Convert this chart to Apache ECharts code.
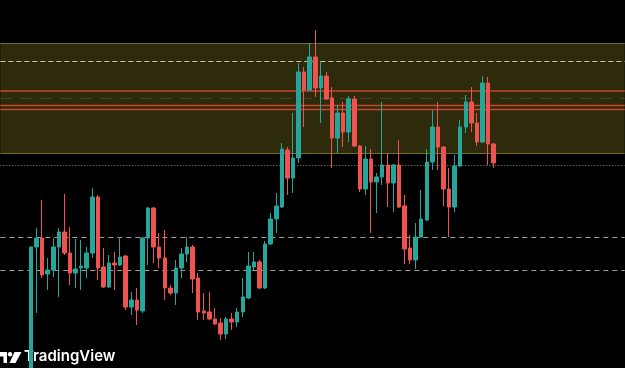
<!DOCTYPE html>
<html>
<head>
<meta charset="utf-8">
<script src="https://cdn.jsdelivr.net/npm/echarts@6/dist/echarts.min.js"></script>
<style>
html,body{margin:0;padding:0;background:#000;}
#chart{width:625px;height:368px;}
</style>
</head>
<body>
<div id="chart"></div>
<script>
// Candle values (arbitrary price units)
const openVals  = [28,153,162,126,130,153,168,147,127,132,132,147,203,133,113,137,135,144,93,100,89,162,192,153,142,112,107,132,146,153,122,89,88,81,77,66,81,78,88,102,133,138,112,156,181,193,250,222,242,328,310,343,312,324,302,262,287,268,301,254,211,241,218,223,235,217,235,194,152,140,163,180,238,273,253,211,193,234,273,298,277,258,317,256];
const closeVals = [153,162,125,130,153,168,147,127,131,134,147,203,132,113,137,135,143,93,100,90,162,192,153,142,112,107,132,146,153,121,88,87,81,76,66,81,78,88,103,134,138,112,156,181,194,251,222,242,328,310,343,312,324,301,262,287,268,301,254,211,241,218,223,235,217,235,193,151,140,163,181,238,273,253,211,193,234,273,298,277,258,317,256,237];
const highVals  = [153,172,200,142,162,172,206,173,161,160,153,212,205,152,145,148,163,145,108,112,163,193,193,167,170,115,140,152,163,155,127,107,108,92,82,83,87,92,122,148,148,140,159,187,207,257,253,287,337,333,357,370,338,328,313,295,298,304,304,255,254,251,227,298,247,236,260,205,165,177,210,251,290,298,254,232,245,280,305,313,287,324,323,257];
const lowVals   = [26,87,122,110,123,103,145,115,112,110,122,142,120,112,112,110,134,90,85,75,87,135,137,132,100,105,95,122,138,107,80,80,80,75,60,61,70,73,83,101,130,111,111,155,167,192,205,207,237,273,309,303,277,300,232,247,253,258,253,208,205,167,187,215,193,188,192,136,136,131,162,179,230,230,194,163,188,233,267,268,254,257,235,232];

// Horizontal levels
const zoneBottom = 247;
const zoneTop = 357;
const zoneDashLevel = 339;
const redLevels = [309, 295, 291];
const faintLevel = 302;
const dottedLevel = 235;
const dashedLevels = [163, 130];

const leadPad = 5;
const totalSlots = 112;

const categories = [];
for (let i = 0; i < totalSlots; i++) categories.push(String(i + 1));
const candleData = [];
for (let i = 0; i < totalSlots; i++) {
  const k = i - leadPad;
  if (k >= 0 && k < openVals.length) {
    candleData.push([openVals[k], closeVals[k], lowVals[k], highVals[k]]);
  } else {
    candleData.push('-');
  }
}

const chart = echarts.init(document.getElementById('chart'), null, {renderer: 'canvas'});
const lineBase = {symbol: 'none', label: {show: false}, silent: true, animation: false};

const option = {
  backgroundColor: '#000000',
  animation: false,
  grid: {left: 0.3, right: 0.3, top: 0, bottom: 0},
  xAxis: {
    type: 'category', data: categories, boundaryGap: true,
    axisLine: {show: false}, axisTick: {show: false}, axisLabel: {show: false}, splitLine: {show: false}
  },
  yAxis: {
    type: 'value', min: 32, max: 400, scale: true,
    axisLine: {show: false}, axisTick: {show: false}, axisLabel: {show: false}, splitLine: {show: false}
  },
  series: [
    {
      type: 'line', data: [], z: 1, silent: true,
      markArea: {
        silent: true, z: 0,
        itemStyle: {color: '#2d2b0c'},
        data: [[{yAxis: zoneBottom}, {yAxis: zoneTop}]]
      },
      markLine: Object.assign({}, lineBase, {
        z: 1,
        data: [
          {yAxis: zoneTop, lineStyle: {color: '#6e6c2e', width: 1, type: 'solid'}},
          {yAxis: zoneBottom, lineStyle: {color: '#6e6c2e', width: 1, type: 'solid'}},
          {yAxis: zoneDashLevel, lineStyle: {color: '#cfcaa4', width: 1, type: [5, 3]}},
          {yAxis: faintLevel, lineStyle: {color: '#45432a', width: 1, type: [12, 8]}},
          {yAxis: redLevels[0], lineStyle: {color: '#c8452f', width: 1.6, type: 'solid'}},
          {yAxis: redLevels[1], lineStyle: {color: '#c8452f', width: 1.4, type: 'solid'}},
          {yAxis: redLevels[2], lineStyle: {color: '#c8452f', width: 1.4, type: 'solid'}},
          {yAxis: dottedLevel, lineStyle: {color: '#8a8a8a', width: 1, type: [1, 2]}},
          {yAxis: dashedLevels[0], lineStyle: {color: '#a0a0a0', width: 1, type: [5, 4]}},
          {yAxis: dashedLevels[1], lineStyle: {color: '#a0a0a0', width: 1, type: [5, 4]}}
        ]
      })
    },
    {
      type: 'candlestick', data: candleData, z: 5, barWidth: 4,
      itemStyle: {
        color: '#26a69a', color0: '#ef5350',
        borderColor: '#26a69a', borderColor0: '#ef5350', borderWidth: 1
      }
    }
  ],
  graphic: [
    {type: 'polygon', shape: {points: [[0,352],[7,352],[7,363],[3.5,363],[3.5,356.5],[0,356.5]]}, style: {fill: '#ffffff'}},
    {type: 'circle', shape: {cx: 10, cy: 354.3, r: 2.2}, style: {fill: '#ffffff'}},
    {type: 'polygon', shape: {points: [[14.5,352],[21.5,352],[15.5,363],[9.5,363]]}, style: {fill: '#ffffff'}},
    {type: 'text', left: 24, top: 349, style: {text: 'TradingView', fill: '#ffffff', font: '600 15px Inter, "Open Sans", sans-serif'}}
  ]
};
chart.setOption(option);
</script>
</body>
</html>
